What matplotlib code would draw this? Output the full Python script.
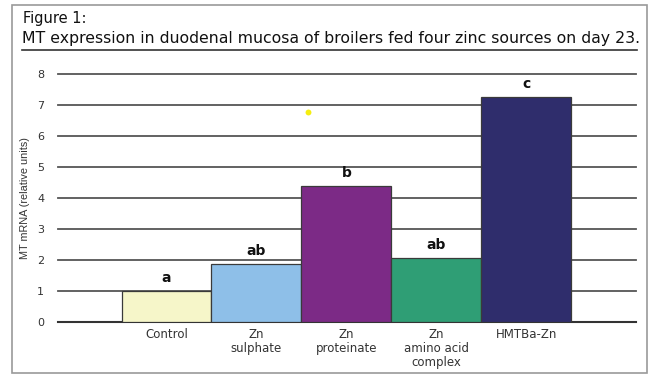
import matplotlib
matplotlib.use("Agg")
import matplotlib.pyplot as plt
from matplotlib.patches import Rectangle
from matplotlib.lines import Line2D

plt.rcParams['font.family'] = ['DejaVu Sans']

categories = ["Control", "Zn\nsulphate", "Zn\nproteinate", "Zn\namino acid\ncomplex", "HMTBa-Zn"]
values = [1.0, 1.87, 4.39, 2.06, 7.26]
letters = ["a", "ab", "b", "ab", "c"]
colors = ["#F6F6C9", "#8EBFE8", "#7C2A86", "#2F9E75", "#2F2D6C"]
yticks = [0, 1, 2, 3, 4, 5, 6, 7, 8]
stray_dot_x = [1.57]
stray_dot_y = [6.77]

W, H = 661, 381
fig = plt.figure(figsize=(W / 100, H / 100), dpi=100)

# outer frame
fig.patches.append(Rectangle((12 / W, 1 - 373 / H), (647 - 12) / W, (373 - 5) / H,
                             transform=fig.transFigure, fill=False,
                             edgecolor="#9a9a9a", linewidth=1.2))
fig.text(23 / W, 1 - 19 / H, "Figure 1:", fontsize=10.5, va="center", ha="left", color="#111111")
fig.text(22 / W, 1 - 38 / H,
         "MT expression in duodenal mucosa of broilers fed four zinc sources on day 23.",
         fontsize=11.3, va="center", ha="left", color="#111111")
fig.lines.append(Line2D([22 / W, 637 / W], [1 - 50 / H, 1 - 50 / H],
                        transform=fig.transFigure, color="#333333", linewidth=1.2))

ax = fig.add_axes([58 / W, 1 - 322 / H, (636 - 58) / W, (322 - 74) / H])
x = list(range(len(categories)))
ax.bar(x, values, width=1.0, color=colors, edgecolor="#3a3a3a", linewidth=0.9, zorder=3)
for xi, v, l in zip(x, values, letters):
    ax.text(xi, v + 0.2, l, ha="center", va="bottom", fontsize=10, fontweight="bold", color="#111111")

ax.scatter(stray_dot_x, stray_dot_y, s=18, color="#F5EE10", zorder=4, linewidths=0)

ax.set_xlim(-1.206, 5.22)
ax.set_ylim(0, 8)
ax.set_yticks(yticks)
ax.yaxis.grid(True, color="#555555", linewidth=1.3, zorder=1)
for gl in ax.get_ygridlines():
    gl.set_clip_on(False)
ax.set_axisbelow(True)
for s in ["top", "right", "left"]:
    ax.spines[s].set_visible(False)
ax.spines["bottom"].set_color("#333333")
ax.spines["bottom"].set_linewidth(1.5)
ax.tick_params(axis="y", length=0, pad=10, labelsize=8, labelcolor="#333333")
ax.set_xticks(x)
ax.set_xticklabels(categories, fontsize=8.5, color="#333333", linespacing=1.1)
ax.tick_params(axis="x", length=0, pad=4)
ax.set_ylabel("MT mRNA (relative units)", fontsize=7.8, color="#333333",
              family="Liberation Sans")
ax.yaxis.set_label_coords(-28 / (636 - 58), 0.5)

fig.savefig("out.png", dpi=100)
